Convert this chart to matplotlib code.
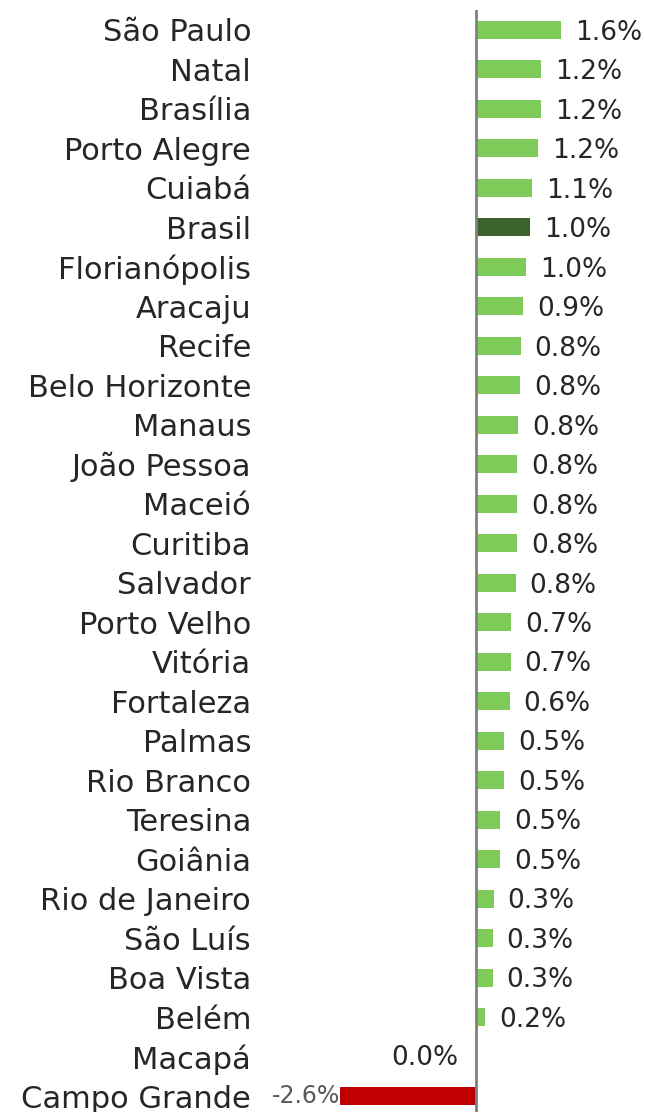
import matplotlib.pyplot as plt

cities = ["São Paulo", "Natal", "Brasília", "Porto Alegre", "Cuiabá", "Brasil",
          "Florianópolis", "Aracaju", "Recife", "Belo Horizonte", "Manaus",
          "João Pessoa", "Maceió", "Curitiba", "Salvador", "Porto Velho",
          "Vitória", "Fortaleza", "Palmas", "Rio Branco", "Teresina", "Goiânia",
          "Rio de Janeiro", "São Luís", "Boa Vista", "Belém", "Macapá",
          "Campo Grande"]
values = [1.63, 1.24, 1.24, 1.19, 1.07, 1.03, 0.96, 0.90, 0.85, 0.84, 0.80,
          0.78, 0.78, 0.78, 0.76, 0.67, 0.66, 0.64, 0.54, 0.54, 0.46, 0.46,
          0.34, 0.32, 0.32, 0.17, 0.0, -2.6]
labels = ["1.6%", "1.2%", "1.2%", "1.2%", "1.1%", "1.0%", "1.0%", "0.9%",
          "0.8%", "0.8%", "0.8%", "0.8%", "0.8%", "0.8%", "0.8%", "0.7%",
          "0.7%", "0.6%", "0.5%", "0.5%", "0.5%", "0.5%", "0.3%", "0.3%",
          "0.3%", "0.2%", "0.0%", "-2.6%"]

green = "#7ecb5a"
dark_green = "#3c632c"
red = "#c00000"
colors = []
for c, v in zip(cities, values):
    if c == "Brasil":
        colors.append(dark_green)
    elif v < 0:
        colors.append(red)
    else:
        colors.append(green)

plt.rcParams["font.family"] = ["DejaVu Sans"]

fig = plt.figure(figsize=(6.45, 11.12), dpi=100)
ax = fig.add_axes([0.4, 0.0, 0.6, 1102 / 1112])

y = list(range(len(cities)))
ax.barh(y, values, height=0.46, color=colors, zorder=2)

ax.set_xlim(-4.17, 3.23)
ax.set_ylim(27.4, -0.5)
ax.axvline(0, color="#808080", linewidth=2, zorder=3)

for i, (v, lab) in enumerate(zip(values, labels)):
    if v < 0:
        ax.annotate(lab, (v, i), xytext=(0, 0), textcoords="offset points",
                    ha="right", va="center", fontsize=17, color="#595959")
    elif v == 0:
        ax.annotate(lab, (0, i), xytext=(-13, -1), textcoords="offset points",
                    ha="right", va="center", fontsize=19, color="#262626")
    else:
        ax.annotate(lab, (v, i), xytext=(10, -2), textcoords="offset points",
                    ha="left", va="center", fontsize=19, color="#262626")

ax.set_yticks(y)
ax.set_yticklabels(cities, fontsize=22, color="#262626")
ax.tick_params(axis="y", length=0, pad=5)
ax.set_xticks([])
for s in ax.spines.values():
    s.set_visible(False)

fig.savefig("out.png", dpi=100)
